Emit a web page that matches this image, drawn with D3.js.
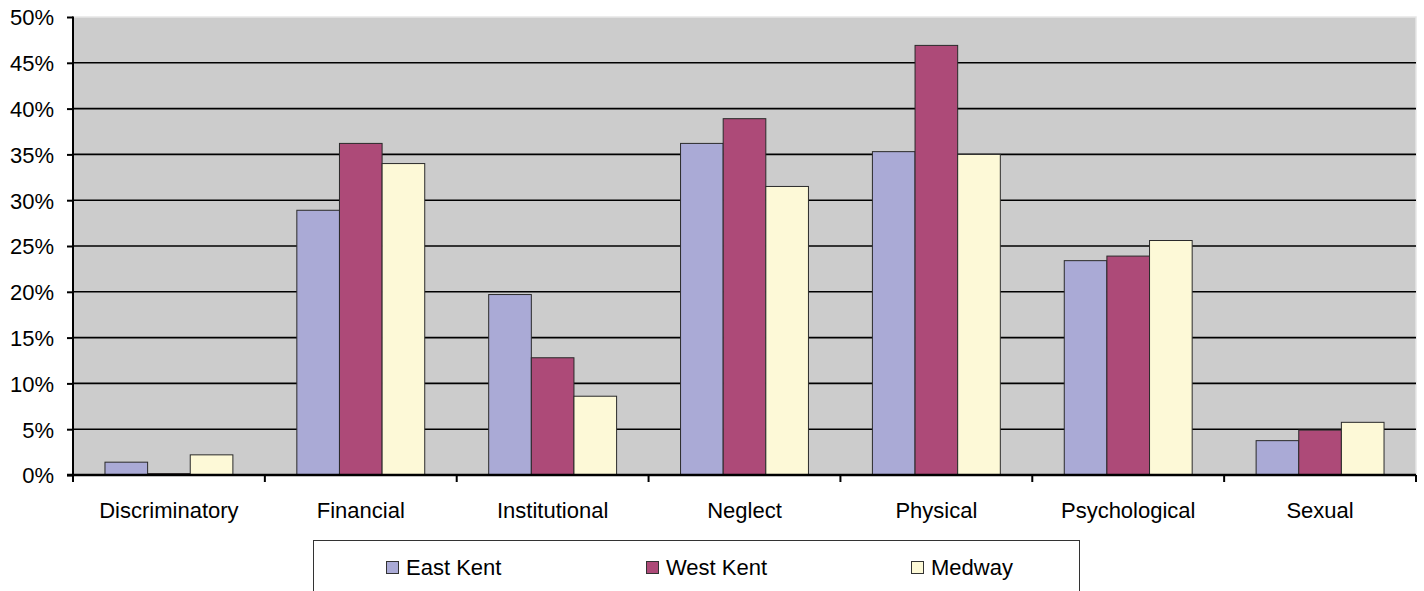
<!DOCTYPE html>
<html><head><meta charset="utf-8">
<script src="https://cdn.jsdelivr.net/npm/d3@7"></script>
<style>html,body{margin:0;padding:0;background:#fff;}svg{display:block;font-family:"Liberation Sans",Arial,sans-serif;}</style>
</head><body>
<svg id="chart" width="1424" height="591"></svg>
<script>
const categories = ["Discriminatory","Financial","Institutional","Neglect","Physical","Psychological","Sexual"];
const seriesNames = ["East Kent","West Kent","Medway"];
const eastKent = [1.4, 28.9, 19.7, 36.2, 35.3, 23.4, 3.75];
const westKent = [0.15, 36.2, 12.8, 38.9, 46.9, 23.9, 4.9];
const medway = [2.2, 34.0, 8.6, 31.5, 35.0, 25.6, 5.75];
const yTicks = [0,5,10,15,20,25,30,35,40,45,50];
const colors = ["#AAAAD6","#AD4A78","#FDF9D7"];

const seriesValues = [eastKent, westKent, medway];
const svg = d3.select("#chart");
const L = 73, R = 1416, T = 17, B = 475;

const x = d3.scaleBand().domain(categories).range([L, R]).paddingInner(0).paddingOuter(0);
const x1 = d3.scaleBand().domain(seriesNames).range([0, x.bandwidth()]).paddingOuter(0.75).paddingInner(0);
const y = d3.scaleLinear().domain([0, 50]).range([B, T]);

// plot background
svg.append("rect").attr("x", L).attr("y", T).attr("width", R - L).attr("height", B - T)
  .attr("fill", "#CCCCCC").attr("stroke", "#E6E6E6").attr("stroke-width", 1.5);

// gridlines
svg.append("g").selectAll("line").data(yTicks.filter(d => d > 0 && d < 50)).join("line")
  .attr("x1", L).attr("x2", R).attr("y1", d => y(d)).attr("y2", d => y(d))
  .attr("stroke", "#000").attr("stroke-width", 1.6);

// bars
const g = svg.append("g");
categories.forEach((c, i) => {
  seriesNames.forEach((s, j) => {
    const v = seriesValues[j][i];
    g.append("rect")
      .attr("x", x(c) + x1(s))
      .attr("y", y(v))
      .attr("width", x1.bandwidth())
      .attr("height", y(0) - y(v))
      .attr("fill", colors[j])
      .attr("stroke", "#2a2a2a").attr("stroke-width", 1);
  });
});

// y axis
const yAxis = d3.axisLeft(y).tickValues(yTicks).tickFormat(d => d + "%").tickSize(6).tickPadding(14);
const ya = svg.append("g").attr("transform", `translate(${L},0)`).call(yAxis);
ya.select(".domain").attr("stroke", "#000").attr("stroke-width", 2).attr("d", `M0,${T - 0.5}V${B}`);
ya.selectAll(".tick line").attr("stroke", "#000").attr("stroke-width", 2);
ya.selectAll(".tick text").attr("font-size", 22).attr("fill", "#000")
  .attr("font-family", "'Liberation Sans', Arial, sans-serif").attr("dy", "0.36em").attr("x", -19);

// x axis
const boundaries = categories.map(c => x(c)).concat([R]);
const xa = svg.append("g");
xa.append("line").attr("x1", L - 6).attr("x2", R).attr("y1", B).attr("y2", B)
  .attr("stroke", "#000").attr("stroke-width", 2.5);
xa.selectAll("line.tk").data(boundaries).join("line").attr("class", "tk")
  .attr("x1", d => d).attr("x2", d => d).attr("y1", B).attr("y2", B + 7)
  .attr("stroke", "#000").attr("stroke-width", 2);
xa.selectAll("text").data(categories).join("text")
  .attr("x", d => x(d) + x.bandwidth() / 2).attr("y", 518)
  .attr("text-anchor", "middle").attr("font-size", 22).attr("fill", "#000")
  .text(d => d);

// legend
const lg = svg.append("g");
lg.append("rect").attr("x", 313.5).attr("y", 540.5).attr("width", 766).attr("height", 60)
  .attr("fill", "#fff").attr("stroke", "#333").attr("stroke-width", 1);
const legX = [386, 646, 911];
seriesNames.forEach((s, j) => {
  lg.append("rect").attr("x", legX[j] + 0.5).attr("y", 561.5).attr("width", 12).attr("height", 12)
    .attr("fill", colors[j]).attr("stroke", "#333").attr("stroke-width", 1);
  lg.append("text").attr("x", legX[j] + 20).attr("y", 575).attr("font-size", 22)
    .attr("fill", "#000").text(s);
});
</script>
</body></html>
